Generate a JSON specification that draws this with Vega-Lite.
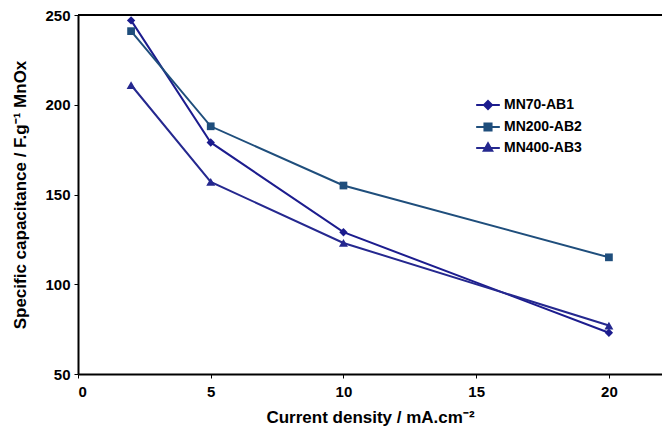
{
  "$schema": "https://vega.github.io/schema/vega-lite/v6.json",
  "autosize": "none",
  "width": 584,
  "height": 359,
  "padding": {"left": 78, "top": 15, "right": 0, "bottom": 62},
  "background": "white",
  "config": {
    "view": {"stroke": null},
    "font": "Liberation Sans",
    "axis": {
      "grid": false,
      "domainColor": "black",
      "domainWidth": 2,
      "tickColor": "black",
      "tickSize": 4,
      "labelFont": "Liberation Sans",
      "labelFontWeight": "bold",
      "labelFontSize": 15,
      "labelColor": "black",
      "titleFont": "Liberation Sans",
      "titleFontWeight": "bold",
      "titleFontSize": 17,
      "titleColor": "black"
    }
  },
  "data": {
    "values": [
      {"series": "MN70-AB1", "x": 2, "y": 247},
      {"series": "MN70-AB1", "x": 5, "y": 179},
      {"series": "MN70-AB1", "x": 10, "y": 129},
      {"series": "MN70-AB1", "x": 20, "y": 73},
      {"series": "MN200-AB2", "x": 2, "y": 241},
      {"series": "MN200-AB2", "x": 5, "y": 188},
      {"series": "MN200-AB2", "x": 10, "y": 155},
      {"series": "MN200-AB2", "x": 20, "y": 115},
      {"series": "MN400-AB3", "x": 2, "y": 211},
      {"series": "MN400-AB3", "x": 5, "y": 157},
      {"series": "MN400-AB3", "x": 10, "y": 123},
      {"series": "MN400-AB3", "x": 20, "y": 77}
    ]
  },
  "layer": [
    {
      "mark": {"type": "rule", "color": "black", "strokeWidth": 2},
      "encoding": {"y": {"datum": 250, "type": "quantitative", "scale": {"domain": [50, 250], "nice": false}}}
    },
    {
      "mark": {"type": "line", "strokeWidth": 2},
      "encoding": {
        "x": {
          "field": "x", "type": "quantitative",
          "scale": {"domain": [0, 22], "nice": false},
          "axis": {"values": [0, 5, 10, 15, 20], "title": "Current density / mA.cm⁻²", "labelPadding": 6, "titlePadding": 10}
        },
        "y": {
          "field": "y", "type": "quantitative",
          "scale": {"domain": [50, 250], "nice": false},
          "axis": {"values": [50, 100, 150, 200, 250], "title": "Specific capacitance / F.g⁻¹ MnOx", "labelPadding": 4, "titlePadding": 15}
        },
        "color": {
          "field": "series", "type": "nominal", "title": null,
          "scale": {"domain": ["MN70-AB1", "MN200-AB2", "MN400-AB3"], "range": ["#1c1c8e", "#1f4e7c", "#25288f"]},
          "legend": {
            "orient": "none", "legendX": 397, "legendY": 77,
            "labelFont": "Liberation Sans", "labelFontWeight": "bold", "labelFontSize": 14, "labelColor": "black",
            "symbolSize": 560, "rowPadding": 0, "symbolStrokeWidth": 2, "labelOffset": 3,
            "symbolType": "M-1,0H1",
            "encode": {
              "symbols": {
                "update": {
                  "shape": {"signal": "datum.value == 'MN70-AB1' ? 'M-1,0H1M0,-0.34L0.34,0L0,0.34L-0.34,0Z' : datum.value == 'MN200-AB2' ? 'M-1,0H1M-0.3,-0.3H0.3V0.3H-0.3Z' : 'M-1,0H1M0,-0.4L0.36,0.24H-0.36Z'"},
                  "stroke": {"signal": "scale('color', datum.value)"},
                  "strokeWidth": {"value": 2},
                  "fill": {"signal": "scale('color', datum.value)"},
                  "opacity": {"value": 1}
                }
              }
            }
          }
        }
      }
    },
    {
      "transform": [{"filter": "datum.series == 'MN70-AB1'"}],
      "mark": {"type": "point", "filled": true, "opacity": 1, "size": 70, "shape": "diamond"},
      "encoding": {
        "x": {"field": "x", "type": "quantitative"},
        "y": {"field": "y", "type": "quantitative"},
        "color": {"field": "series", "type": "nominal"}
      }
    },
    {
      "transform": [{"filter": "datum.series == 'MN200-AB2'"}],
      "mark": {"type": "point", "filled": true, "opacity": 1, "size": 60, "shape": "square"},
      "encoding": {
        "x": {"field": "x", "type": "quantitative"},
        "y": {"field": "y", "type": "quantitative"},
        "color": {"field": "series", "type": "nominal"}
      }
    },
    {
      "transform": [{"filter": "datum.series == 'MN400-AB3'"}],
      "mark": {"type": "point", "filled": true, "opacity": 1, "size": 80, "shape": "triangle-up"},
      "encoding": {
        "x": {"field": "x", "type": "quantitative"},
        "y": {"field": "y", "type": "quantitative"},
        "color": {"field": "series", "type": "nominal"}
      }
    }
  ]
}
